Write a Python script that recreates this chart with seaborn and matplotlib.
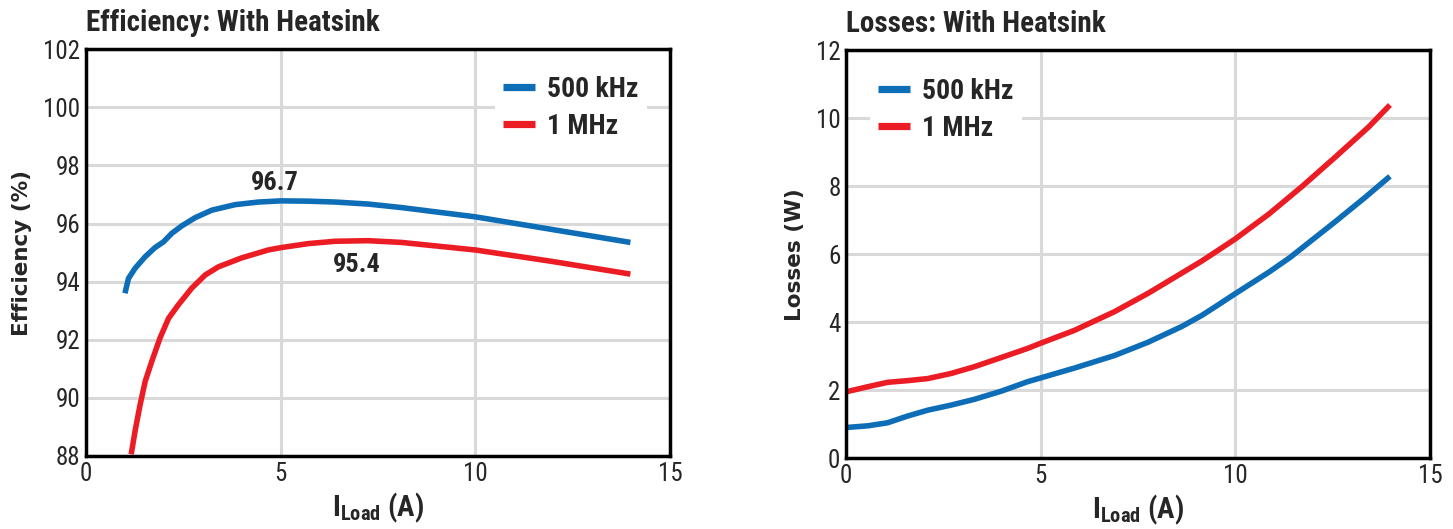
import matplotlib
matplotlib.use("Agg")
import matplotlib.pyplot as plt
from matplotlib import font_manager
import seaborn as sns
import pandas as pd

# ---- data ----
eff_x_500 = [1.0, 1.09, 1.26, 1.52, 1.77, 1.99, 2.2, 2.46, 2.8, 3.23, 3.83, 4.43, 5.0,
             5.71, 6.4, 7.25, 8.1, 10.0, 11.95, 13.98]
eff_y_500 = [93.6, 94.11, 94.46, 94.86, 95.17, 95.37, 95.66, 95.92, 96.2, 96.46, 96.65, 96.74, 96.78,
             96.77, 96.74, 96.67, 96.55, 96.23, 95.8, 95.35]
eff_x_1m = [1.16, 1.26, 1.39, 1.52, 1.69, 1.9, 2.12, 2.37, 2.71, 3.06, 3.4, 4.0, 4.68, 5.0,
            5.71, 6.4, 7.25, 8.1, 10.0, 11.95, 13.98]
eff_y_1m = [88.06, 88.86, 89.77, 90.57, 91.26, 92.06, 92.74, 93.2, 93.77, 94.23, 94.51, 94.82, 95.09, 95.17,
            95.31, 95.39, 95.41, 95.35, 95.09, 94.7, 94.26]

loss_x_500 = [0.0, 0.56, 1.07, 1.59, 2.1, 2.7, 3.3, 3.99, 4.67, 5.0, 5.87, 6.9, 7.76, 8.62,
              9.14, 9.48, 10.0, 10.86, 11.4, 12.57, 13.3, 13.97]
loss_y_500 = [0.9, 0.95, 1.04, 1.24, 1.41, 1.56, 1.73, 1.97, 2.25, 2.36, 2.65, 3.02, 3.41, 3.87,
              4.2, 4.45, 4.84, 5.47, 5.9, 6.96, 7.64, 8.29]
loss_x_1m = [0.0, 0.56, 1.07, 1.59, 2.1, 2.7, 3.3, 3.99, 4.67, 5.0, 5.87, 6.9, 7.76, 8.62,
             9.14, 9.5, 10.0, 10.86, 11.72, 12.57, 13.43, 13.97]
loss_y_1m = [1.95, 2.1, 2.23, 2.28, 2.34, 2.49, 2.69, 2.96, 3.23, 3.38, 3.76, 4.31, 4.85, 5.44,
             5.8, 6.07, 6.45, 7.18, 8.0, 8.86, 9.75, 10.39]

series_names = ["500 kHz", "1 MHz"]
colors = ["#0e6db7", "#ec1c24"]
eff_ticks = [88, 90, 92, 94, 96, 98, 100, 102]
loss_ticks = [0, 2, 4, 6, 8, 10, 12]
x_ticks = [0, 5, 10, 15]
peak_labels = ["96.7", "95.4"]
peak_pos = [(4.85, 97.4), (6.96, 94.57)]

avail = {f.name for f in font_manager.fontManager.ttflist}
cond = "DejaVu Sans"
for cand in ["Roboto Condensed", "Liberation Sans Narrow", "DejaVu Sans Condensed"]:
    if cand in avail:
        cond = cand
        break

sns.set_style("white")
plt.rcParams["font.family"] = [cond, "DejaVu Sans"]
plt.rcParams["mathtext.fontset"] = "custom"
plt.rcParams["mathtext.rm"] = cond + ":bold"
plt.rcParams["mathtext.default"] = "rm"

fig = plt.figure(figsize=(14.53, 5.29), dpi=100)
ax1 = fig.add_axes([0.0592, 0.138, 0.402, 0.769])
ax2 = fig.add_axes([0.5822, 0.134, 0.402, 0.771])

df_eff = pd.concat([
    pd.DataFrame({"x": eff_x_500, "y": eff_y_500, "s": series_names[0]}),
    pd.DataFrame({"x": eff_x_1m, "y": eff_y_1m, "s": series_names[1]}),
])
df_loss = pd.concat([
    pd.DataFrame({"x": loss_x_500, "y": loss_y_500, "s": series_names[0]}),
    pd.DataFrame({"x": loss_x_1m, "y": loss_y_1m, "s": series_names[1]}),
])
pal = dict(zip(series_names, colors))

for ax, df, yt, ylab, title in [
    (ax1, df_eff, eff_ticks, "Efficiency (%)", "Efficiency: With Heatsink"),
    (ax2, df_loss, loss_ticks, "Losses (W)", "Losses: With Heatsink"),
]:
    sns.lineplot(data=df, x="x", y="y", hue="s", palette=pal, ax=ax, lw=4.0,
                 sort=False, estimator=None, zorder=3)
    for ln in ax.get_lines():
        ln.set_solid_joinstyle("round")
        ln.set_solid_capstyle("butt")
    ax.set_xlim(0, 15)
    ax.set_ylim(yt[0], yt[-1])
    ax.set_xticks(x_ticks)
    ax.set_yticks(yt)
    ax.tick_params(length=0, labelsize=18, pad=4)
    ax.grid(True, color="#d9d9d9", lw=2.2, zorder=0)
    ax.set_axisbelow(True)
    for sp in ax.spines.values():
        sp.set_visible(True)
        sp.set_color("black")
        sp.set_linewidth(2.5)
        sp.set_zorder(5)
    ax.set_xlabel(r"I$_{\mathrm{Load}}$ (A)", fontsize=21, fontweight="bold", labelpad=4)
    ax.set_ylabel(ylab, fontsize=15.5, fontweight="bold", family="DejaVu Sans", labelpad=8)
    ax.set_title(title, fontsize=21, fontweight="bold", loc="left", x=0.0, pad=13)

leg_kw = dict(frameon=True, fontsize=20, handlelength=1.15, handletextpad=0.42,
              borderpad=0.3, labelspacing=0.35, borderaxespad=0)
leg1 = ax1.legend(loc="upper left", bbox_to_anchor=(0.70, 0.955), **leg_kw)
leg2 = ax2.legend(loc="upper left", bbox_to_anchor=(0.041, 0.952), **leg_kw)
for lg in (leg1, leg2):
    lg.get_frame().set_edgecolor("none")
    lg.get_frame().set_facecolor("white")
    lg.get_frame().set_alpha(1)
    lg.set_zorder(4)
    for t in lg.get_texts():
        t.set_fontweight("bold")
    for l in lg.get_lines():
        l.set_linewidth(5.2)
        l.set_solid_capstyle("butt")

for lab, (px, py) in zip(peak_labels, peak_pos):
    ax1.text(px, py, lab, fontsize=19, fontweight="bold", ha="center", va="center")

fig.savefig("out.png", dpi=100)
